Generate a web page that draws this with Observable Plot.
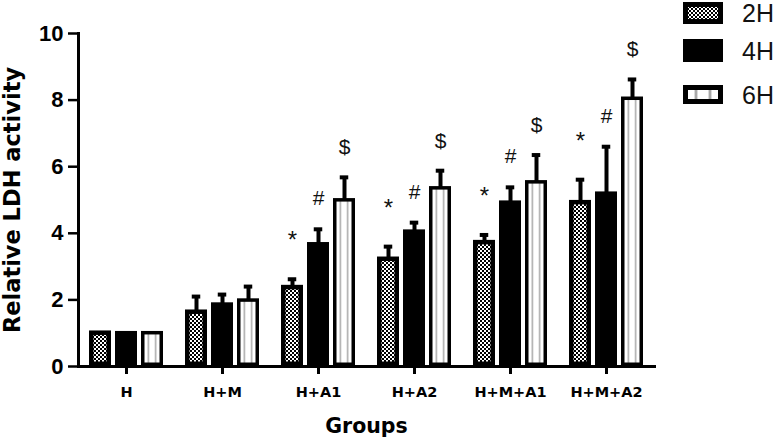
<!DOCTYPE html>
<html><head><meta charset="utf-8">
<script src="https://cdn.jsdelivr.net/npm/d3@7"></script>
<script src="https://cdn.jsdelivr.net/npm/@observablehq/plot@0.6"></script>
<style>
html,body{margin:0;padding:0;background:#fff;}
#wrap{position:relative;width:774px;height:440px;overflow:hidden;}
#chart svg{display:block;}
g[aria-label="y-axis tick label"] text{font-family:"Liberation Sans",Arial,sans-serif;font-weight:bold;font-size:22px;}
g[aria-label="y-axis label"] text{font-family:"DejaVu Sans",sans-serif;font-weight:bold;font-size:22.5px;}
g[aria-label="fx-axis label"] text{font-family:"DejaVu Sans",sans-serif;font-weight:bold;font-size:20.5px;}
g[aria-label="fx-axis tick label"] text{font-family:"DejaVu Sans",sans-serif;font-weight:bold;font-size:14.5px;}
g[aria-label="text"] text{font-family:"Liberation Sans",Arial,sans-serif;}
#legend{position:absolute;left:683px;top:0;}
</style></head>
<body>
<svg width="0" height="0" style="position:absolute">
  <defs>
    <pattern id="checker" patternUnits="userSpaceOnUse" width="4" height="4">
      <rect width="4" height="4" fill="#fff"/>
      <rect width="2" height="2" fill="#000"/>
      <rect x="2" y="2" width="2" height="2" fill="#000"/>
    </pattern>
    <pattern id="stripes" patternUnits="objectBoundingBox" patternContentUnits="objectBoundingBox" width="1" height="1">
      <rect width="1" height="1" fill="#fff"/>
      <rect x="0.265" y="0" width="0.07" height="1" fill="#9a9a9a"/>
      <rect x="0.665" y="0" width="0.07" height="1" fill="#9a9a9a"/>
    </pattern>
  </defs>
</svg>
<div id="wrap"><div id="chart"></div><svg id="legend" width="91" height="110"></svg></div>
<script>
// ---- data ----
const groups = ["H", "H+M", "H+A1", "H+A2", "H+M+A1", "H+M+A2"];
const series = ["2H", "4H", "6H"];
const mean2H = [1.0, 1.63, 2.37, 3.22, 3.72, 4.92];
const mean4H = [1.0, 1.86, 3.67, 4.05, 4.92, 5.19];
const mean6H = [1.0, 1.98, 4.99, 5.35, 5.53, 8.04];
const err2H = [0, 0.47, 0.25, 0.38, 0.23, 0.69];
const err4H = [0, 0.30, 0.45, 0.27, 0.46, 1.41];
const err6H = [0, 0.42, 0.69, 0.53, 0.82, 0.58];
const markedGroups = ["H+A1", "H+A2", "H+M+A1", "H+M+A2"];
const markSymbols = ["*", "#", "$"];
const yTicks = [0, 2, 4, 6, 8, 10];

// ---- build table ----
const meansBySeries = [mean2H, mean4H, mean6H];
const errsBySeries = [err2H, err4H, err6H];
const rows = [];
series.forEach((s, j) => groups.forEach((g, i) => {
  const value = meansBySeries[j][i], err = errsBySeries[j][i];
  rows.push({group: g, series: s, value, err, top: value + err,
             sym: markedGroups.includes(g) ? markSymbols[j] : null});
}));

// ---- styles ----
const barStyle = {
  "2H": {fill: "url(#checker)", strokeWidth: 4.5},
  "4H": {fill: "#000", strokeWidth: 3.5},
  "6H": {fill: "url(#stripes)", strokeWidth: 3.5}
};
const symbolStyle = {"*": {dy: -31, fontSize: 24}, "#": {dy: -24, fontSize: 21}, "$": {dy: -23, fontSize: 21}};

const withErr = rows.filter(r => r.err > 0);

const plot = Plot.plot({
  width: 774, height: 440,
  marginLeft: 78, marginRight: 120, marginTop: 33, marginBottom: 74,
  style: {fontFamily: "'Liberation Sans', Arial, sans-serif", color: "#000", background: "#fff", overflow: "visible"},
  fx: {domain: groups, padding: 0, label: "Groups"},
  x: {domain: series, paddingInner: 0.15, paddingOuter: 0.386, axis: null},
  y: {domain: [0, 10], ticks: yTicks, label: "Relative LDH activity"},
  marks: [
    ...series.map(s => Plot.barY(rows.filter(r => r.series === s), {
      fx: "group", x: "series", y: "value",
      fill: barStyle[s].fill, stroke: "#000", strokeWidth: barStyle[s].strokeWidth,
      insetLeft: barStyle[s].strokeWidth / 2, insetRight: barStyle[s].strokeWidth / 2,
      insetBottom: barStyle[s].strokeWidth / 2
    })),
    Plot.ruleX(withErr, {fx: "group", x: "series", y1: "value", y2: "top", stroke: "#000", strokeWidth: 4}),
    Plot.tickY(withErr, {fx: "group", x: "series", y: "top", stroke: "#000", strokeWidth: 4, insetLeft: 6.75, insetRight: 6.75}),
    ...markSymbols.map(sym => Plot.text(rows.filter(r => r.sym === sym), {fx: "group", x: "series", y: "top", text: "sym",
      dy: symbolStyle[sym].dy, lineAnchor: "bottom", fontSize: symbolStyle[sym].fontSize, fill: "#111"})),
    Plot.axisY({ticks: yTicks, tickSize: 10, tickPadding: 5, fontSize: 22, fontWeight: "bold",
      strokeWidth: 2.5, label: "Relative LDH activity", labelAnchor: "center", labelOffset: 74, labelArrow: "none"}),
    Plot.axisFx({anchor: "bottom", tickSize: 8, tickPadding: 12, strokeWidth: 3,
      label: "Groups", labelAnchor: "center", labelOffset: 66, labelArrow: "none"}),
    Plot.frame({anchor: "left", facet: "super", stroke: "#000", strokeWidth: 3}),
    Plot.frame({anchor: "bottom", facet: "super", stroke: "#000", strokeWidth: 3})
  ]
});
document.getElementById("chart").appendChild(plot);

// ---- legend ----
const legendFill = {"2H": "url(#checker)", "4H": "#000", "6H": "url(#stripes)"};
const legendRows = [{top: 2, h: 22, cy: 13}, {top: 39, h: 23, cy: 50.5}, {top: 85, h: 19, cy: 94.5}];
const lg = d3.select("#legend");
series.forEach((s, j) => {
  const r = legendRows[j];
  lg.append("rect").attr("x", 2.5).attr("y", r.top + 2.5).attr("width", 35).attr("height", r.h - 5)
    .attr("fill", legendFill[s]).attr("stroke", "#000").attr("stroke-width", 5);
  lg.append("text").attr("x", 59).attr("y", r.cy).attr("dominant-baseline", "central")
    .attr("font-family", "'Liberation Sans', Arial, sans-serif").attr("font-size", 25).attr("fill", "#111")
    .text(s);
});
</script>
</body></html>
